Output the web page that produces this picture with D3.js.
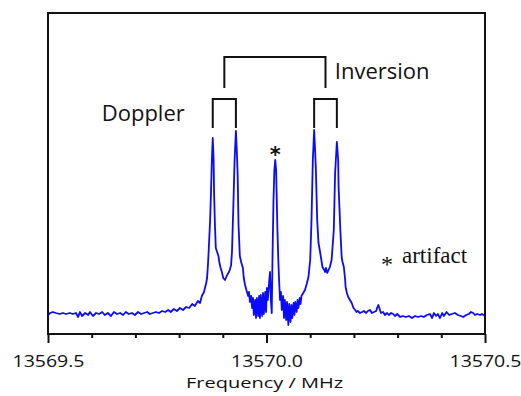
<!DOCTYPE html>
<html>
<head>
<meta charset="utf-8">
<script src="https://cdn.jsdelivr.net/npm/d3@7"></script>
<style>
body { margin: 0; background: #fff; }
svg text { fill: #111; }
</style>
</head>
<body>
<div id="chart"></div>
<script>

// spectrum trace (MHz, arb. units)
var freq = [
    13569.500, 13569.505, 13569.511, 13569.518, 13569.527, 13569.534, 13569.541, 13569.550, 13569.557, 13569.564,
    13569.569, 13569.573, 13569.578, 13569.585, 13569.592, 13569.596, 13569.603, 13569.610, 13569.617, 13569.624,
    13569.630, 13569.637, 13569.644, 13569.651, 13569.658, 13569.665, 13569.672, 13569.678, 13569.685, 13569.692,
    13569.699, 13569.706, 13569.713, 13569.720, 13569.727, 13569.733, 13569.740, 13569.747, 13569.754, 13569.761,
    13569.768, 13569.775, 13569.781, 13569.788, 13569.795, 13569.802, 13569.809, 13569.816, 13569.823, 13569.830,
    13569.836, 13569.843, 13569.848, 13569.852, 13569.857, 13569.862, 13569.864, 13569.866, 13569.868, 13569.871,
    13569.873, 13569.875, 13569.877, 13569.879, 13569.880, 13569.882, 13569.884, 13569.887, 13569.890, 13569.892,
    13569.895, 13569.898, 13569.901, 13569.905, 13569.907, 13569.910, 13569.914, 13569.916, 13569.919, 13569.921,
    13569.924, 13569.927, 13569.930, 13569.932, 13569.934, 13569.936, 13569.939, 13569.942, 13569.946, 13569.948,
    13569.951, 13569.954, 13569.958, 13569.960, 13569.962, 13569.965, 13569.967, 13569.969, 13569.971, 13569.974,
    13569.976, 13569.978, 13569.981, 13569.983, 13569.985, 13569.987, 13569.990, 13569.992, 13569.994, 13569.997,
    13569.999, 13570.001, 13570.003, 13570.006, 13570.008, 13570.010, 13570.012, 13570.014, 13570.016, 13570.018,
    13570.020, 13570.022, 13570.023, 13570.025, 13570.027, 13570.029, 13570.031, 13570.033, 13570.035, 13570.038,
    13570.040, 13570.042, 13570.045, 13570.047, 13570.050, 13570.052, 13570.055, 13570.057, 13570.059, 13570.062,
    13570.064, 13570.066, 13570.069, 13570.071, 13570.073, 13570.076, 13570.078, 13570.080, 13570.084, 13570.088,
    13570.092, 13570.096, 13570.100, 13570.103, 13570.106, 13570.109, 13570.111, 13570.113, 13570.116, 13570.119,
    13570.123, 13570.128, 13570.132, 13570.134, 13570.136, 13570.139, 13570.142, 13570.145, 13570.149, 13570.154,
    13570.157, 13570.161, 13570.164, 13570.165, 13570.169, 13570.172, 13570.174, 13570.177, 13570.180, 13570.181,
    13570.184, 13570.187, 13570.191, 13570.195, 13570.199, 13570.203, 13570.206, 13570.209, 13570.214, 13570.219,
    13570.223, 13570.228, 13570.232, 13570.237, 13570.241, 13570.246, 13570.251, 13570.253, 13570.256, 13570.259,
    13570.262, 13570.267, 13570.271, 13570.276, 13570.280, 13570.285, 13570.290, 13570.294, 13570.299, 13570.306,
    13570.312, 13570.319, 13570.326, 13570.333, 13570.340, 13570.347, 13570.354, 13570.360, 13570.367, 13570.374,
    13570.379, 13570.383, 13570.388, 13570.392, 13570.397, 13570.402, 13570.406, 13570.412, 13570.418, 13570.424,
    13570.431, 13570.438, 13570.445, 13570.450, 13570.457, 13570.463, 13570.468, 13570.473, 13570.477, 13570.482,
    13570.489, 13570.493, 13570.500
];

var intensity = [
    -1, 1, 2, 1, 0, 1, 0, 1, 0, 1,
    -3, 2, -2, 1, -1, 2, -2, 1, 0, 2,
    -1, 1, -2, 2, 0, 1, -1, 2, 0, 1,
    -1, 2, 0, 1, 2, 0, 1, 2, 1, 3,
    2, 4, 2, 5, 3, 6, 4, 7, 6, 10,
    8, 13, 11, 18, 22, 31, 36, 49, 66, 94,
    122, 154, 176, 154, 122, 89, 66, 62, 58, 52,
    46, 42, 36, 34, 36, 39, 42, 44, 49, 62,
    106, 154, 183, 164, 139, 89, 58, 52, 46, 36,
    29, 24, 18, 22, 12, 18, 6, 16, -1, 14,
    -4, 16, -2, 18, -4, 19, -2, 21, 0, 22,
    2, 26, 14, 32, 42, 14, 1, 64, 114, 144,
    154, 144, 124, 84, 54, 32, 14, 22, 4, 18,
    -4, 14, -6, 12, -11, 10, -8, 9, -4, 11,
    -1, 12, 2, 14, 6, 16, 10, 18, 21, 24,
    30, 37, 54, 94, 154, 184, 166, 144, 94, 71,
    61, 47, 44, 42, 46, 41, 44, 47, 54, 84,
    141, 172, 154, 127, 84, 57, 52, 47, 34, 27,
    21, 17, 14, 11, 6, 4, 2, 3, 1, 2,
    3, 1, 3, 4, 1, 2, 3, 6, 9, 5,
    1, 2, -1, 1, -1, 1, 0, -2, 0, -3,
    -2, -3, -2, -4, -2, -3, -2, -3, -1, 0,
    -4, 1, -2, 0, -4, 1, -2, 2, -1, 0,
    1, -1, -2, -3, -1, 0, 2, 1, -1, 0,
    -1, 0, -2
];

// the four lines: Doppler pair x inversion pair
var peakFreqs = [13569.877, 13569.930, 13570.109, 13570.161];
var artifactFreq = 13570.020;

var majorTicks = [13569.5, 13570.0, 13570.5];
var minorTicks = [13569.6, 13569.7, 13569.8, 13569.9, 13570.1, 13570.2, 13570.3, 13570.4];

var margin = {top: 13, right: 36, bottom: 62, left: 48},
    width = 521 - margin.left - margin.right,
    height = 396 - margin.top - margin.bottom;

var svg = d3.select("#chart")
    .append("svg")
    .attr("width", 521)
    .attr("height", 396)
    .append("g")
    .attr("transform", "translate(" + margin.left + "," + margin.top + ")");

var x = d3.scaleLinear()
    .domain([13569.5, 13570.5])
    .range([0, width]);

var y = d3.scaleLinear()
    .domain([-20, 301])
    .range([height, 0]);

svg.append("clipPath")
    .attr("id", "plotclip")
    .append("rect")
    .attr("width", width)
    .attr("height", height);

// spectrum
var line = d3.line()
    .x(function(d) { return x(d[0]); })
    .y(function(d) { return y(d[1]); });

svg.append("path")
    .datum(freq.map(function(f, i) { return [f, intensity[i]]; }))
    .attr("clip-path", "url(#plotclip)")
    .attr("fill", "none")
    .attr("stroke", "#0a0aff")
    .attr("stroke-width", 1.8)
    .attr("stroke-linejoin", "round")
    .attr("d", line);

// frame
svg.append("rect")
    .attr("width", width)
    .attr("height", height)
    .attr("fill", "none")
    .attr("stroke", "#111")
    .attr("stroke-width", 2);

// x axis: minor ticks, then major ticks with labels
var minorAxis = svg.append("g")
    .attr("transform", "translate(0," + height + ")")
    .call(d3.axisBottom(x).tickValues(minorTicks).tickSize(4).tickFormat(""));
minorAxis.select(".domain").remove();
minorAxis.selectAll("line").attr("stroke", "#111").attr("stroke-width", 2);

var majorAxis = svg.append("g")
    .attr("transform", "translate(0," + height + ")")
    .call(d3.axisBottom(x).tickValues(majorTicks).tickSize(9).tickPadding(12).tickFormat(d3.format(".1f")));
majorAxis.select(".domain").remove();
majorAxis.selectAll("line").attr("stroke", "#111").attr("stroke-width", 2);
majorAxis.selectAll("text")
    .attr("font-family", "Open Sans, sans-serif")
    .attr("font-size", 17)
    .attr("textLength", 72)
    .attr("lengthAdjust", "spacingAndGlyphs");

svg.append("text")
    .attr("x", width / 2 - 2)
    .attr("y", height + 54)
    .attr("text-anchor", "middle")
    .attr("font-family", "Open Sans, sans-serif")
    .attr("font-size", 15)
    .attr("textLength", 157)
    .attr("lengthAdjust", "spacingAndGlyphs")
    .text("Frequency / MHz");

// brackets over the doublets
function bracket(f1, f2, top, bottom) {
    svg.append("path")
        .attr("fill", "none")
        .attr("stroke", "#111")
        .attr("stroke-width", 2)
        .attr("d", "M" + x(f1) + "," + y(bottom) + "V" + y(top) + "H" + x(f2) + "V" + y(bottom));
}
bracket(peakFreqs[0], peakFreqs[1], 215, 186);
bracket(peakFreqs[2], peakFreqs[3], 215, 186);
bracket((peakFreqs[0] + peakFreqs[1]) / 2, (peakFreqs[2] + peakFreqs[3]) / 2, 257, 226);

svg.append("text")
    .attr("x", x(peakFreqs[0]) - 111)
    .attr("y", y(193))
    .attr("font-family", "Open Sans, sans-serif")
    .attr("font-size", 22)
    .text("Doppler");

svg.append("text")
    .attr("x", x(peakFreqs[3]) - 2)
    .attr("y", y(235))
    .attr("font-family", "Open Sans, sans-serif")
    .attr("font-size", 22)
    .text("Inversion");

// artifact marker
svg.append("text")
    .attr("x", x(artifactFreq))
    .attr("y", y(166) + 14)
    .attr("text-anchor", "middle")
    .attr("font-family", "DejaVu Sans, sans-serif")
    .attr("font-size", 21)
    .attr("font-weight", "bold")
    .text("*");

svg.append("text")
    .attr("x", 339)
    .attr("y", 259)
    .attr("text-anchor", "middle")
    .attr("font-family", "Liberation Serif, serif")
    .attr("font-size", 24)
    .text("*");

svg.append("text")
    .attr("x", 354)
    .attr("y", 250)
    .attr("font-family", "Liberation Serif, serif")
    .attr("font-size", 23)
    .text("artifact");

</script>
</body>
</html>
